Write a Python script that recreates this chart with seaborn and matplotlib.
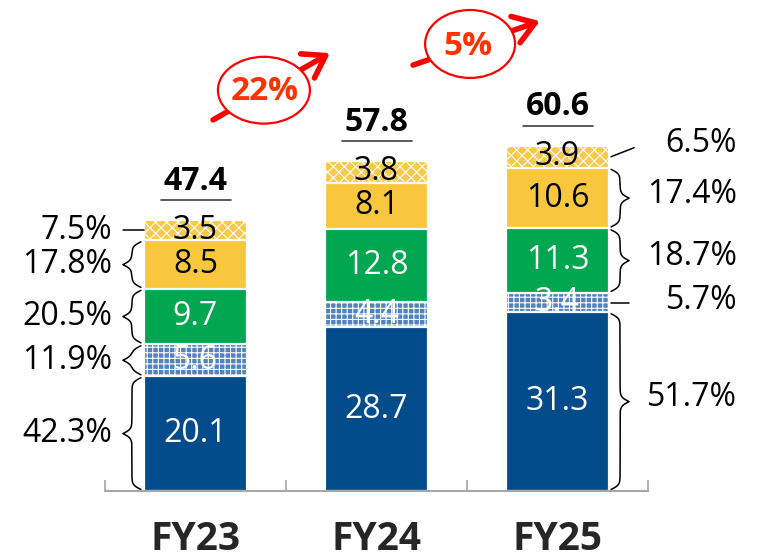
import numpy as np
import pandas as pd
import matplotlib
matplotlib.use('Agg')
import matplotlib.pyplot as plt
import seaborn as sns
from matplotlib.patches import Ellipse
from matplotlib.transforms import IdentityTransform

# ---------------- data ----------------
categories = ['FY23', 'FY24', 'FY25']
core_blue = [20.1, 28.7, 31.3]
blue_hatched = [5.6, 4.4, 3.4]
green = [9.7, 12.8, 11.3]
yellow = [8.5, 8.1, 10.6]
yellow_hatched = [3.5, 3.8, 3.9]
totals = [47.4, 57.8, 60.6]
shares_fy23 = ['42.3%', '11.9%', '20.5%', '17.8%', '7.5%']
shares_fy25 = ['51.7%', '5.7%', '18.7%', '17.4%', '6.5%']
growth = ['22%', '5%']

# ---------------- style ----------------
sns.set_theme(style='white')
plt.rcParams['font.family'] = ['Open Sans', 'DejaVu Sans']
plt.rcParams['hatch.linewidth'] = 0.8

W, H = 757, 559
fig = plt.figure(figsize=(W / 100, H / 100), dpi=100)
ax = fig.add_axes([105 / W, (H - 491) / H, 543 / W, 491 / H])

layers = [core_blue, blue_hatched, green, yellow, yellow_hatched]
styles = [
    dict(color='#034C8C', hatch=None, text='white'),
    dict(color='#5282C0', hatch='+++', text='white'),
    dict(color='#00A650', hatch=None, text='white'),
    dict(color='#F9C73D', hatch=None, text='black'),
    dict(color='#F8C94A', hatch='xxx', text='black'),
]
cum = np.cumsum(np.array(layers), axis=0)
df = pd.DataFrame({'category': categories})
for k in range(len(layers)):
    df[f'top{k}'] = cum[k]

bar_w = 0.57
for k in reversed(range(len(layers))):
    st = styles[k]
    sns.barplot(data=df, x='category', y=f'top{k}', color=st['color'],
                saturation=1, width=bar_w, edgecolor='white', linewidth=1.6,
                hatch=st['hatch'], errorbar=None, ax=ax)

ax.set_xlim(-0.5, 2.5)
ax.set_ylim(0, 86)
ax.set_xlabel('')
ax.set_ylabel('')
ax.set_yticks([])
for s in ['top', 'right', 'left']:
    ax.spines[s].set_visible(False)
ax.spines['bottom'].set_color('#A6A6A6')
ax.spines['bottom'].set_linewidth(1.5)
ax.set_xticks(range(len(categories)), categories)
ax.set_xticks([-0.5, 0.5, 1.5, 2.5], minor=True)
ax.tick_params(axis='x', which='major', length=0, pad=21, labelsize=28)
ax.tick_params(axis='x', which='minor', direction='in', length=8, width=1.2,
               color='#A6A6A6', bottom=True)
for lab in ax.get_xticklabels():
    lab.set_fontweight('bold')

# segment labels
for k in range(len(layers)):
    for i in range(len(categories)):
        h = layers[k][i]
        ax.text(i, cum[k][i] - h / 2, f'{h:.1f}', ha='center', va='center',
                color=styles[k]['text'], fontsize=23, zorder=5)

ID = IdentityTransform()


def disp(x, y):
    return ax.transData.transform((x, y))


# totals with underline
for i, t in enumerate(totals):
    px, py = disp(i, cum[-1][i])
    ax.text(px, py + 39, f'{t:.1f}', transform=ID, ha='center', va='center',
            fontsize=23, fontweight='bold', color='black')
    ax.plot([px - 35, px + 35], [py + 20, py + 20], transform=ID,
            color='#404040', lw=1.2, clip_on=False)


def brace(x_end, y_lo, y_hi, width, direction, beta=0.45):
    L = y_hi - y_lo
    half = np.linspace(0, L / 2, 150)
    v = (1 / (1 + np.exp(-beta * (half - half[0])))
         + 1 / (1 + np.exp(-beta * (half - half[-1]))) - 0.5)
    ys = np.concatenate([y_lo + half, y_hi - half[::-1]])
    vs = np.concatenate([v, v[::-1]])
    xs = x_end + direction * width * vs
    ax.plot(xs, ys, transform=ID, color='black', lw=1.1, clip_on=False)


# left side (FY23) braces and shares
xl = disp(-bar_w / 2, 0)[0]
for k in range(len(layers)):
    lo = disp(0, cum[k][0] - layers[k][0])[1]
    hi = disp(0, cum[k][0])[1]
    mid = (lo + hi) / 2
    if k == len(layers) - 1:
        ax.plot([xl - 21, xl], [mid, mid], transform=ID, color='black', lw=1.1,
                clip_on=False)
    else:
        brace(xl - 3, lo + 1.5, hi - 1.5, 18, -1)
    ax.text(xl - 32, mid, shares_fy23[k], transform=ID, ha='right', va='center',
            fontsize=23, color='black')

# right side (FY25) braces and shares
xr = disp(2 + bar_w / 2, 0)[0]
for k in range(len(layers)):
    lo = disp(2, cum[k][2] - layers[k][2])[1]
    hi = disp(2, cum[k][2])[1]
    mid = (lo + hi) / 2
    if k == 1:
        ax.plot([xr + 2, xr + 20], [mid, mid], transform=ID, color='black',
                lw=1.1, clip_on=False)
        ty = mid + 2
    elif k == len(layers) - 1:
        ax.plot([xr + 2, xr + 25], [mid, mid + 9], transform=ID, color='black',
                lw=1.1, clip_on=False)
        ty = mid + 13
    else:
        brace(xr + 2, lo + 1.5, hi - 1.5, 18, 1)
        ty = mid + 4
    ax.text(xr + 128, ty, shares_fy25[k], transform=ID, ha='right',
            va='center', fontsize=23, color='black')

# growth annotations
growth_layout = [
    dict(center=(0.378, 70.2), w=0.508, h=11.7, start=(0.097, 65.0),
         tip=(0.743, 76.7), text=(0.384, 69.9)),
    dict(center=(1.517, 78.3), w=0.497, h=11.9, start=(1.202, 74.6),
         tip=(1.903, 82.3), text=(1.506, 77.8)),
]
for g, lay in zip(growth, growth_layout):
    ax.annotate('', xy=lay['tip'], xytext=lay['start'],
                arrowprops=dict(arrowstyle='->,head_length=0.75,head_width=0.5',
                                color='#FF0000', lw=4, mutation_scale=20,
                                shrinkA=0, shrinkB=0),
                annotation_clip=False, zorder=6)
    ax.add_patch(Ellipse(lay['center'], lay['w'], lay['h'], facecolor='white',
                         edgecolor='#FF0000', lw=1.6, zorder=7, clip_on=False))
    ax.text(*lay['text'], g, ha='center', va='center', fontsize=24,
            fontweight='bold', color='#FF3300', zorder=8)

fig.savefig('out.png', dpi=100)
